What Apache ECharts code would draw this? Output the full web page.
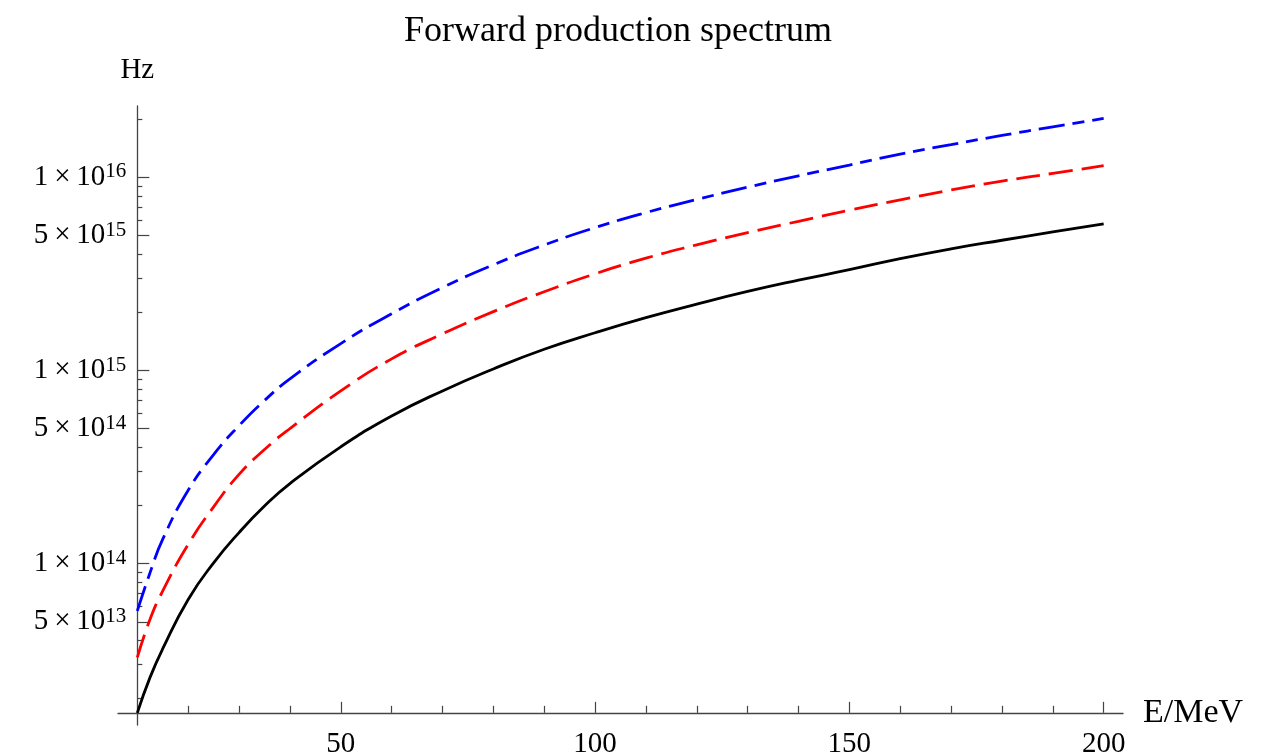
<!DOCTYPE html>
<html>
<head>
<meta charset="utf-8">
<title>Forward production spectrum</title>
<script src="https://cdn.jsdelivr.net/npm/echarts@6/dist/echarts.min.js"></script>
<style>
  html, body { margin: 0; padding: 0; background: #fff; }
  #main { width: 1266px; height: 753px; }
</style>
</head>
<body>
<div id="main"></div>
<script>
// E in MeV, rates in Hz
const energy = [10, 12.5, 15, 20, 25, 30, 35, 40, 50, 60, 70, 80, 90, 100, 110, 120, 130, 140, 150, 160, 170, 180, 190, 200];
const hzSolid = [1.69e13, 2.58e13, 3.63e13, 6.53e13, 1.01e14, 1.45e14, 1.99e14, 2.60e14, 4.03e14, 5.82e14, 7.85e14,
  1.02e15, 1.29e15, 1.57e15, 1.88e15, 2.21e15, 2.57e15, 2.94e15, 3.33e15, 3.80e15, 4.27e15, 4.73e15, 5.22e15, 5.75e15];
const hzDashed = [3.27e13, 5.16e13, 7.23e13, 1.26e14, 1.97e14, 2.90e14, 3.90e14, 5.01e14, 7.85e14, 1.15e15, 1.55e15,
  2.02e15, 2.56e15, 3.17e15, 3.82e15, 4.48e15, 5.18e15, 5.93e15, 6.76e15, 7.66e15, 8.61e15, 9.57e15, 1.05e16, 1.15e16];
const hzDotDashed = [5.70e13, 8.99e13, 1.34e14, 2.40e14, 3.67e14, 5.19e14, 7.00e14, 9.06e14, 1.38e15, 1.97e15, 2.69e15,
  3.53e15, 4.47e15, 5.50e15, 6.58e15, 7.69e15, 8.91e15, 1.02e16, 1.16e16, 1.32e16, 1.48e16, 1.65e16, 1.83e16, 2.02e16];

// ticks
const xMajorTicks = [50, 100, 150, 200];
const xMinorTicks = [20, 30, 40, 60, 70, 80, 90, 110, 120, 130, 140, 160, 170, 180, 190];
const yLabelValues = [5e13, 1e14, 5e14, 1e15, 5e15, 1e16];
const yMajorTicks = [5e13, 1e14, 5e14, 1e15, 5e15, 1e16];
const yMinorTicks = [2e13, 3e13, 4e13, 6e13, 7e13, 8e13, 9e13,
  2e14, 3e14, 4e14, 6e14, 7e14, 8e14, 9e14,
  2e15, 3e15, 4e15, 6e15, 7e15, 8e15, 9e15, 2e16];

const FONT = '"Liberation Serif", "DejaVu Serif", serif';
const grid = { left: 118, top: 106, width: 1005, height: 619, outerBoundsMode: 'none' };
const xRange = [6.2, 203.8];
const yRange = [13.165, 16.37]; // log10(Hz)

// axes cross at the first point of the solid curve
const xCross = energy[0];
const yCross = Math.log10(hzSolid[0]);
const xAxisShift = -(yCross - yRange[0]) / (yRange[1] - yRange[0]) * grid.height;
const yAxisShift = -(xCross - xRange[0]) / (xRange[1] - xRange[0]) * grid.width;

const lg = v => Math.log10(v);
const axisColor = '#444';

function toPoints(hz) {
  return energy.map((e, i) => [e, lg(hz[i])]);
}

function sciLabel(v) {
  const n = Math.floor(v + 1e-6);
  const k = Math.round(Math.pow(10, v - n));
  return '{m|' + k + '\u2009×\u200910}{s|' + n + '}';
}

const chart = echarts.init(document.getElementById('main'));

const option = {
  animation: false,
  backgroundColor: '#fff',
  title: {
    text: 'Forward production spectrum',
    left: 399,
    top: 9,
    textStyle: { fontFamily: FONT, fontSize: 36, fontWeight: 'normal', color: '#000' }
  },
  grid: grid,
  xAxis: [{
    type: 'value',
    min: xRange[0],
    max: xRange[1],
    position: 'bottom',
    offset: xAxisShift,
    name: 'E/MeV',
    nameLocation: 'end',
    nameGap: 20,
    nameTextStyle: { fontFamily: FONT, fontSize: 34, color: '#000' },
    axisLine: { show: true, lineStyle: { color: axisColor, width: 1.3 } },
    axisTick: { show: true, inside: true, length: 11, customValues: xMajorTicks, lineStyle: { color: axisColor, width: 1.2 } },
    axisLabel: { customValues: xMajorTicks, margin: 17, fontFamily: FONT, fontSize: 29, color: '#000' },
    splitLine: { show: false }
  }, {
    type: 'value',
    min: xRange[0],
    max: xRange[1],
    position: 'bottom',
    offset: xAxisShift,
    axisLine: { show: false },
    axisTick: { show: true, inside: true, length: 7, customValues: xMinorTicks, lineStyle: { color: axisColor, width: 1.2 } },
    axisLabel: { show: false },
    splitLine: { show: false }
  }],
  yAxis: [{
    type: 'value',
    min: yRange[0],
    max: yRange[1],
    position: 'left',
    offset: yAxisShift,
    name: 'Hz',
    nameLocation: 'end',
    nameGap: 21,
    nameTextStyle: { fontFamily: FONT, fontSize: 29, color: '#000', align: 'center' },
    axisLine: { show: true, lineStyle: { color: axisColor, width: 1.3 } },
    axisTick: { show: true, inside: true, length: 12, customValues: yMajorTicks.map(lg), lineStyle: { color: axisColor, width: 1.2 } },
    axisLabel: {
      customValues: yLabelValues.map(lg),
      margin: 11,
      formatter: sciLabel,
      rich: {
        m: { fontFamily: FONT, fontSize: 29, color: '#000', lineHeight: 32 },
        s: { fontFamily: FONT, fontSize: 21, color: '#000', lineHeight: 21, verticalAlign: 'top' }
      }
    },
    splitLine: { show: false }
  }, {
    type: 'value',
    min: yRange[0],
    max: yRange[1],
    position: 'left',
    offset: yAxisShift,
    axisLine: { show: false },
    axisTick: { show: true, inside: true, length: 5, customValues: yMinorTicks.map(lg), lineStyle: { color: axisColor, width: 1.2 } },
    axisLabel: { show: false },
    splitLine: { show: false }
  }],
  series: [{
    name: 'solid',
    type: 'line',
    xAxisIndex: 0,
    yAxisIndex: 0,
    data: toPoints(hzSolid),
    smooth: 0.5,
    showSymbol: false,
    silent: true,
    lineStyle: { color: '#000', width: 2.8 }
  }, {
    name: 'dashed',
    type: 'line',
    xAxisIndex: 0,
    yAxisIndex: 0,
    data: toPoints(hzDashed),
    smooth: 0.5,
    showSymbol: false,
    silent: true,
    lineStyle: { color: '#f00', width: 2.8, type: [24, 9] }
  }, {
    name: 'dotdashed',
    type: 'line',
    xAxisIndex: 0,
    yAxisIndex: 0,
    data: toPoints(hzDotDashed),
    smooth: 0.5,
    showSymbol: false,
    silent: true,
    lineStyle: { color: '#00f', width: 2.8, type: [26, 8, 12, 8] }
  }]
};

chart.setOption(option);
</script>
</body>
</html>
